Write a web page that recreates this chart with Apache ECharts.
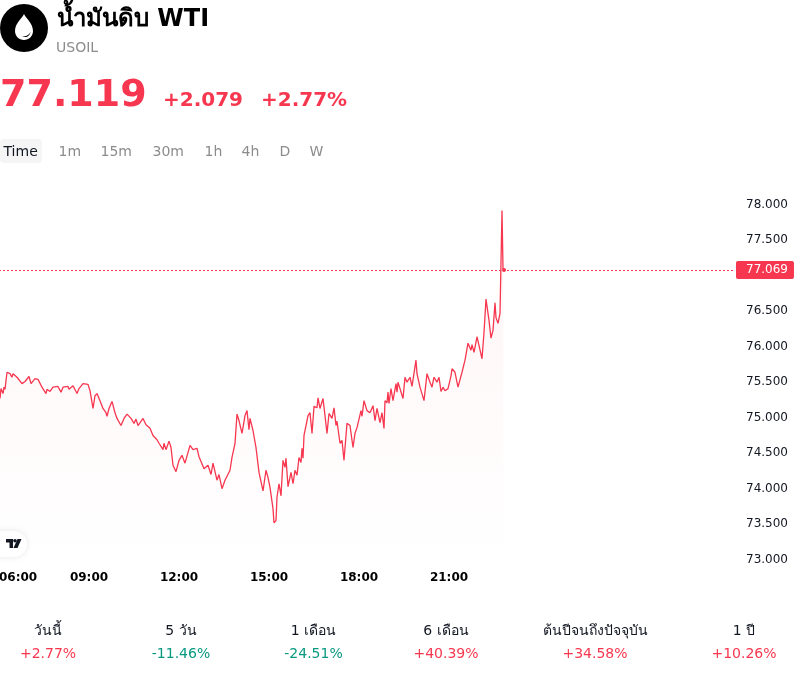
<!DOCTYPE html>
<html>
<head>
<meta charset="utf-8">
<title>USOIL</title>
<style>html,body{margin:0;padding:0;background:#fff}#chart{width:800px;height:673px}</style>
<script src="https://cdn.jsdelivr.net/npm/echarts@6/dist/echarts.min.js"></script>
</head>
<body>
<div id="chart"></div>
<script>
// Intraday USOIL quotes: minutes since midnight and price at that minute.
const minutes = [362,364,368,370,372,376,378,382,386,388,396,406,412,420,424,428,432,438,446,450,454,456,462,468,478,484,488,498,500,508,516,520,528,538,542,548,552,556,562,568,574,576,580,586,592,596,604,610,616,624,630,634,638,648,654,662,668,676,680,688,690,694,700,704,708,714,716,720,726,732,742,748,756,760,764,770,778,784,788,796,800,806,812,822,826,832,836,840,846,852,856,860,862,868,874,880,888,894,898,902,908,910,914,916,920,924,928,932,934,938,944,948,952,956,960,964,966,968,970,974,978,982,986,990,996,998,1002,1008,1012,1016,1020,1026,1030,1034,1036,1042,1046,1050,1056,1062,1068,1072,1076,1084,1086,1090,1096,1102,1108,1112,1116,1122,1126,1130,1132,1136,1138,1140,1144,1148,1154,1156,1158,1162,1168,1172,1176,1182,1186,1194,1196,1202,1206,1210,1216,1222,1226,1230,1236,1240,1244,1248,1252,1258,1264,1266,1272,1278,1282,1286,1292,1298,1304,1306,1310,1316,1320,1326,1330,1334,1340,1344,1348,1352,1354,1358,1362,1364,1366,1368,1370];
const prices = [75.26,75.40,75.33,75.42,75.39,75.63,75.63,75.61,75.56,75.61,75.56,75.47,75.50,75.57,75.47,75.49,75.54,75.53,75.42,75.40,75.33,75.39,75.36,75.42,75.43,75.35,75.42,75.43,75.39,75.44,75.33,75.40,75.47,75.46,75.37,75.12,75.30,75.33,75.23,75.12,75.06,75.01,75.12,75.22,75.06,74.98,74.88,74.98,75.04,74.98,74.91,74.97,74.88,74.98,74.89,74.84,74.74,74.68,74.63,74.54,74.63,74.54,74.66,74.57,74.32,74.23,74.25,74.39,74.46,74.35,74.60,74.54,74.56,74.44,74.43,74.27,74.32,74.19,74.35,74.11,74.19,73.99,74.11,74.25,74.43,74.63,75.04,74.95,74.77,75.02,75.09,74.82,74.98,74.81,74.57,74.22,73.96,74.25,74.15,74.01,73.71,73.51,73.54,73.87,74.06,73.89,74.39,74.29,74.42,74.02,74.22,74.06,74.25,74.18,74.43,74.36,74.56,74.42,74.74,74.88,75.02,75.06,74.77,75.15,75.13,75.27,75.12,75.26,75.02,74.77,75.05,74.98,75.13,74.88,74.94,74.63,74.67,74.39,74.91,74.88,74.57,74.77,74.85,75.09,75.01,75.23,75.09,75.06,75.16,74.95,75.12,74.92,75.06,74.84,75.23,75.20,75.35,75.19,75.40,75.23,75.47,75.35,75.49,75.40,75.26,75.56,75.49,75.56,75.43,75.80,75.61,75.42,75.42,75.23,75.61,75.49,75.42,75.56,75.49,75.56,75.36,75.42,75.37,75.40,75.58,75.68,75.63,75.42,75.44,75.63,75.80,76.04,75.94,76.02,75.91,76.13,76.01,75.82,76.19,76.66,76.36,76.11,76.22,76.61,76.40,76.32,76.46,76.46,77.91,77.09,77.069];
const lastPrice = 77.069;

// Header quote and range selector.
const instrumentName = 'น้ำมันดิบ WTI';
const instrumentSymbol = 'USOIL';
const quote = '77.119';
const quoteChange = '+2.079';
const quoteChangePct = '+2.77%';
const intervals = ['Time', '1m', '15m', '30m', '1h', '4h', 'D', 'W'];
const intervalLeft = [3.5, 58.5, 100.5, 152.5, 204.5, 241.5, 279.5, 309.5];

// Performance table under the chart.
const periods = ['วันนี้', '5 วัน', '1 เดือน', '6 เดือน', 'ต้นปีจนถึงปัจจุบัน', '1 ปี'];
const periodChanges = ['+2.77%', '-11.46%', '-24.51%', '+40.39%', '+34.58%', '+10.26%'];
const periodCenters = [48, 181, 313.5, 446, 595, 744];

const RED = '#f7374f';
const GREEN = '#089981';
const FONT = '"DejaVu Sans", sans-serif';

// Oil drop outline and the highlight inside it, for the instrument badge.
echarts.graphic.registerShape('oilDrop', echarts.graphic.extendPath(
  'M24 14 C22.5 18 15 23 15 31 C15 36 19 40 24 40 C29 40 33 36 33 31 C33 23 25.5 18 24 14 Z', {}));
echarts.graphic.registerShape('oilGlint', echarts.graphic.extendPath(
  'M22 36 C26 37 29 35 30.5 32 C30 36 26 38.5 22 36 Z', {}));

const hhmm = m => String(Math.floor(m / 60)).padStart(2, '0') + ':00';

const text = (x, y, t, size, fill, weight, align) => ({
  type: 'text', x, y, silent: true,
  style: { text: t, fontFamily: FONT, fontSize: size, fontWeight: weight || 'normal', fill,
           textAlign: align || 'left', textVerticalAlign: 'middle' }
});

const graphics = [
  // round instrument badge with an oil drop
  { type: 'circle', shape: { cx: 24, cy: 28, r: 24 }, style: { fill: '#000' } },
  { type: 'oilDrop', style: { fill: '#fff' } },
  { type: 'oilGlint', style: { fill: '#000' } },
  text(57, 20, instrumentName, 24, '#000', 'bold'),
  text(56, 48, instrumentSymbol, 14, '#8c8c8c'),
  text(0, 96, quote, 38, RED, 'bold'),
  text(163, 101, quoteChange, 20, RED, 'bold'),
  text(261, 101, quoteChangePct, 20, RED, 'bold'),
  { type: 'rect', shape: { x: 0, y: 139, width: 42, height: 24, r: 4 }, style: { fill: '#f5f5f5' } },
  // attribution badge in the lower left corner
  { type: 'rect', shape: { x: -12, y: 531, width: 39, height: 26, r: 13 },
    style: { fill: '#fff', shadowBlur: 6, shadowColor: 'rgba(0,0,0,0.10)' } },
  { type: 'polygon', shape: { points: [[6, 539], [13, 539], [13, 548], [9.5, 548], [9.5, 542.5], [6, 542.5]] }, style: { fill: '#131722' } },
  { type: 'circle', shape: { cx: 15, cy: 540.8, r: 1.8 }, style: { fill: '#131722' } },
  { type: 'polygon', shape: { points: [[17.5, 539], [21.5, 539], [17.5, 548], [13.5, 548]] }, style: { fill: '#131722' } }
];
intervals.forEach((t, i) => graphics.push(text(intervalLeft[i], 152, t, 14, i === 0 ? '#131722' : '#8c8c8c')));
periods.forEach((t, i) => {
  graphics.push(text(periodCenters[i], 631, t, 14, '#131722', 'normal', 'center'));
  graphics.push(text(periodCenters[i], 654, periodChanges[i], 14, periodChanges[i][0] === '+' ? RED : GREEN, 'normal', 'center'));
});

const chart = echarts.init(document.getElementById('chart'), null, { renderer: 'canvas' });
chart.setOption({
  animation: false,
  backgroundColor: '#fff',
  textStyle: { fontFamily: FONT },
  grid: { left: -1, top: 204, width: 736, height: 355, containLabel: false, outerBoundsMode: 'none' },
  xAxis: {
    type: 'value', min: 360, max: 1832, interval: 180,
    axisLine: { show: false }, axisTick: { show: false }, splitLine: { show: false },
    axisLabel: {
      margin: 13, fontSize: 12, fontWeight: 'bold', color: '#000', fontFamily: FONT,
      alignMinLabel: 'left', showMaxLabel: false, hideOverlap: false,
      formatter: v => (v <= 1260 ? hhmm(v) : '')
    }
  },
  yAxis: {
    type: 'value', position: 'right', min: 73, max: 78, interval: 0.5,
    axisLine: { show: false }, axisTick: { show: false }, splitLine: { show: false },
    axisLabel: {
      margin: 11,
      rich: { tick: { fontSize: 12, color: '#131722', fontFamily: FONT, padding: [1, 0, 0, 0] } },
      formatter: v => (v === 77 ? '' : '{tick|' + v.toFixed(3) + '}')
    }
  },
  series: [{
    type: 'line',
    data: minutes.map((m, i) => [m, prices[i]]),
    showSymbol: false, symbol: 'none', smooth: false,
    lineStyle: { color: RED, width: 1.3 },
    itemStyle: { color: RED },
    areaStyle: {
      color: new echarts.graphic.LinearGradient(0, 0, 0, 1, [
        { offset: 0, color: 'rgba(247,55,79,0.08)' },
        { offset: 1, color: 'rgba(247,55,79,0)' }
      ])
    },
    markLine: {
      silent: true, symbol: 'none', animation: false,
      itemStyle: { color: RED },
      lineStyle: { color: RED, width: 1, type: [2, 2], opacity: 1 },
      label: {
        position: 'end', distance: 1, formatter: lastPrice.toFixed(3),
        color: '#fff', fontSize: 12, fontFamily: FONT, backgroundColor: RED,
        padding: [4, 6, 2, 10], borderRadius: 2
      },
      data: [{ yAxis: lastPrice, lineStyle: { color: RED } }]
    },
    markPoint: {
      silent: true, animation: false, symbol: 'circle', symbolSize: 4,
      itemStyle: { color: RED }, label: { show: false },
      data: [{ coord: [minutes[minutes.length - 1], lastPrice] }]
    }
  }],
  graphic: graphics
});
</script>
</body>
</html>
